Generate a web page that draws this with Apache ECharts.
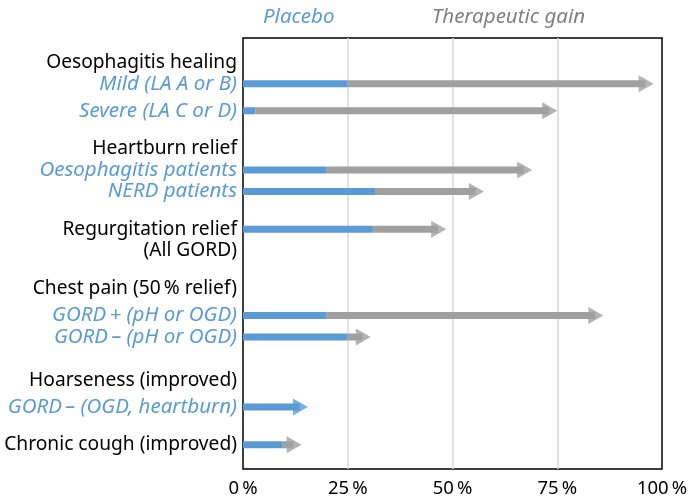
<!DOCTYPE html>
<html>
<head>
<meta charset="utf-8">
<script src="https://cdn.jsdelivr.net/npm/echarts@6/dist/echarts.min.js"></script>
<style>
  html, body { margin: 0; padding: 0; background: #fff; }
  #chart { width: 692px; height: 500px; }
</style>
</head>
<body>
<div id="chart"></div>
<script>
// left hand labels, h = group heading, s = sub group (blue italic)
const rowLabels = [
  'Oesophagitis healing', 'Mild (LA A or B)', 'Severe (LA C or D)',
  'Heartburn relief', 'Oesophagitis patients', 'NERD patients',
  'Regurgitation relief', '(All GORD)',
  'Chest pain (50\u2009% relief)', 'GORD\u2009+ (pH or OGD)', 'GORD\u2009– (pH or OGD)',
  'Hoarseness (improved)', 'GORD\u2009– (OGD, heartburn)',
  'Chronic cough (improved)'
]
const rowKind = ['h', 's', 's', 'h', 's', 's', 'h', 'h', 'h', 's', 's', 'h', 's', 'h']
// vertical slot of each label on a fine 80 slot axis (uneven spacing in the original)
const rowSlot = [4, 8, 13, 20, 24, 28, 35, 39, 46, 51, 55, 63, 68, 75]

// rows that carry an arrow
const barRows = [
  'Mild (LA A or B)', 'Severe (LA C or D)', 'Oesophagitis patients', 'NERD patients',
  'Regurgitation relief', 'GORD\u2009+ (pH or OGD)', 'GORD\u2009– (pH or OGD)',
  'GORD\u2009– (OGD, heartburn)', 'Chronic cough (improved)'
]
const placebo = [25, 3, 20, 31.5, 31, 20, 25, 15.5, 9.5]
const gain = [73, 72, 49, 26, 17.5, 66, 5.5, 0, 4.5]

const xTicks = [0, 25, 50, 75, 100]

const BLUE = '#5b9bd5'
const GREY = '#a0a0a0'
const FONT = 'Noto Sans'
const NSLOT = 80
const HEAD = 2 // shaft stops a bit before the tip, the head covers the rest

const slots = []
for (let i = 0; i < NSLOT; i++) slots.push(String(i))

const placeboShaft = new Array(NSLOT).fill('-')
const gainShaft = new Array(NSLOT).fill('-')
const heads = []
barRows.forEach((name, i) => {
  const slot = rowSlot[rowLabels.indexOf(name)]
  const total = placebo[i] + gain[i]
  placeboShaft[slot] = Math.min(placebo[i], total - HEAD)
  gainShaft[slot] = Math.max(0, total - HEAD - placebo[i])
  heads.push({
    value: [total, slot],
    itemStyle: { color: gain[i] > 0 ? GREY : BLUE }
  })
})

const chart = echarts.init(document.getElementById('chart'))
chart.setOption({
  animation: false,
  textStyle: { fontFamily: FONT },
  title: [
    {
      text: 'Placebo', left: 258, top: 2,
      textStyle: { color: BLUE, fontSize: 20.5, fontStyle: 'italic', fontWeight: 'normal', fontFamily: FONT }
    },
    {
      text: 'Therapeutic gain', left: 427, top: 2,
      textStyle: { color: '#808080', fontSize: 20.5, fontStyle: 'italic', fontWeight: 'normal', fontFamily: FONT }
    }
  ],
  grid: {
    left: 243, right: 30, top: 38, bottom: 31,
    outerBoundsMode: 'none',
    show: true,
    borderColor: '#000',
    borderWidth: 1.5
  },
  xAxis: {
    type: 'value',
    min: 0,
    max: 100,
    interval: 25,
    axisLine: { show: false },
    axisTick: { show: false },
    splitLine: {
      showMinLine: false,
      showMaxLine: false,
      lineStyle: { color: '#d9d9d9', width: 1.5 }
    },
    axisLabel: {
      color: '#000',
      fontSize: 18.5,
      fontFamily: FONT,
      margin: 10,
      customValues: xTicks,
      formatter: v => v + '\u2009%'
    }
  },
  yAxis: {
    type: 'category',
    data: slots,
    inverse: true,
    axisLine: { show: false },
    axisTick: { show: false },
    splitLine: { show: false },
    axisLabel: {
      interval: 0,
      margin: 6,
      formatter: (v) => {
        const k = rowSlot.indexOf(Number(v))
        if (k < 0) return ''
        return '{' + rowKind[k] + '|' + rowLabels[k] + '}'
      },
      rich: {
        h: { color: '#000', fontSize: 19.2, fontFamily: FONT },
        s: { color: BLUE, fontSize: 20.5, fontFamily: FONT, fontStyle: 'italic' }
      }
    }
  },
  series: [
    {
      name: 'Placebo',
      type: 'bar',
      stack: 'arrow',
      barWidth: 7,
      itemStyle: { color: BLUE },
      data: placeboShaft
    },
    {
      name: 'Therapeutic gain',
      type: 'bar',
      stack: 'arrow',
      barWidth: 7,
      itemStyle: { color: GREY },
      data: gainShaft
    },
    {
      name: 'head',
      type: 'scatter',
      symbol: 'path://M0,0L10,5L0,10Z',
      symbolKeepAspect: false,
      symbolSize: [15, 17],
      symbolOffset: [-7.5, 0],
      z: 3,
      data: heads
    }
  ]
})
</script>
</body>
</html>
